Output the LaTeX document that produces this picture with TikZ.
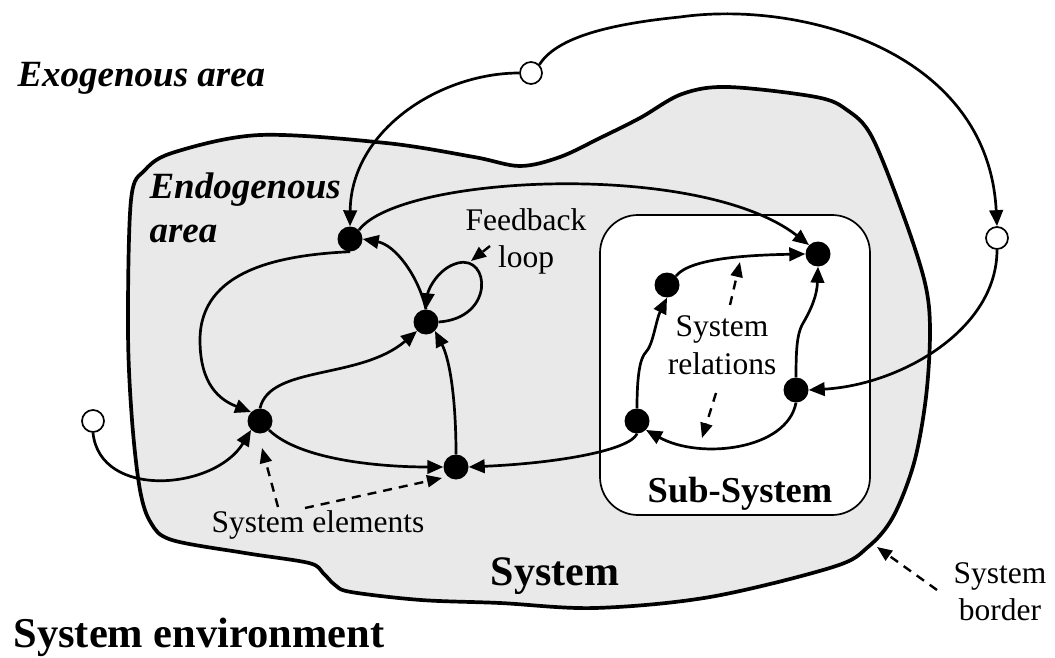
\documentclass[tikz,border=0pt]{standalone}
\usepackage{fontspec}
\setmainfont{Liberation Serif}
\usetikzlibrary{arrows.meta}
\begin{document}
\begin{tikzpicture}[x=1pt,y=-1pt,
  blk/.style={circle,fill=black,minimum size=25pt,inner sep=0pt},
  opn/.style={circle,draw=black,fill=white,line width=1.7pt,minimum size=22pt,inner sep=0pt},
  conn/.style={line width=2.7pt,-{Triangle[length=16pt,width=13.5pt]}},
  hint/.style={line width=2.4pt,dash pattern=on 9pt off 7pt,-{Triangle[length=15pt,width=12pt]}},
  reg/.style={font=\fontsize{31.5}{36}\selectfont},
  bigb/.style={font=\fontsize{42}{48}\selectfont\bfseries},
  area/.style={font=\fontsize{37}{42}\selectfont\bfseries\itshape}]
\useasboundingbox (0,0) rectangle (1055,658);
% system blob
\draw[line width=3.7pt,fill=gray!17] plot[smooth cycle,tension=0.55] coordinates {
 (128,330) (131,200) (145,170) (175,152) (260,135) (386,143) (474,157) (520,166)
 (560,157) (600,138) (640,118) (682,94) (728,87) (816,97) (847,110) (872,137)
 (904,217) (925,283) (930,330) (926,397) (914,463) (893,517) (868,547) (833,567)
 (710,597) (595,608) (500,603) (421,600) (351,592) (335,585) (323,573) (309,563)
 (245,553) (172,540) (151,523) (140,490) (132,420)};
% subsystem
\node[draw,line width=1.7pt,fill=white,rounded corners=38pt,minimum width=270pt,minimum height=300pt,inner sep=0pt] (sub) at (735,365) {};
% texts
\node[area,anchor=base west] (exo) at (14,87) {Exogenous area};
\node[area,anchor=base west] (endo1) at (146,198) {Endogenous};
\node[area,anchor=base west] (endo2) at (146,242) {area};
\node[reg,anchor=base] (fb1) at (526,230) {Feedback};
\node[reg,anchor=base] (fb2) at (526,267) {loop};
\node[reg,anchor=base] (rel1) at (722,336) {System};
\node[reg,anchor=base] (rel2) at (722,374) {relations};
\node[reg,anchor=base] (elem) at (318,532) {System elements};
\node[font=\fontsize{36.5}{42}\selectfont\bfseries,anchor=base] (subl) at (740,502) {Sub-System};
\node[bigb,anchor=base] (sys) at (555,585) {System};
\node[font=\fontsize{42.5}{48}\selectfont\bfseries,anchor=base west] (env) at (10,647) {System environment};
\node[reg,anchor=base] (bor1) at (1000,583) {System};
\node[reg,anchor=base] (bor2) at (1000,620) {border};
% nodes
\node[opn] (O1) at (531,73) {};
\node[opn] (O2) at (997,238) {};
\node[opn] (O3) at (93,421) {};
\node[blk] (A) at (350,239) {};
\node[blk] (B) at (426,322) {};
\node[blk] (C) at (260,421) {};
\node[blk] (D) at (456,467) {};
\node[blk] (E) at (818,254) {};
\node[blk] (F) at (667,285) {};
\node[blk] (G) at (637,421) {};
\node[blk] (H) at (796,390) {};
% connectors
\draw[conn] (O1.west) .. controls (440,73) and (351,130) .. (A.north);
\draw[conn] (O1.north east) .. controls (555,40) and (600,25) .. (680,17) .. controls (800,0) and (988,50) .. (O2.north);
\draw[conn] (O2.south) .. controls (997,330) and (900,385) .. (H.east);
\draw[conn] (O3.south) .. controls (100,500) and (215,490) .. (C.south west);
\draw[conn] (A.north east) .. controls (400,175) and (700,160) .. (E.north west);
\draw[conn] (A.south) .. controls (280,255) and (200,270) .. (200,340) .. controls (200,385) and (220,400) .. (C.north west);
\draw[conn] (B.north) .. controls (418,275) and (395,245) .. (A.east);
\draw[conn] (B.east) .. controls (495,318) and (490,255) .. (458,263) .. controls (438,268) and (428,290) .. (B.north);
\draw[conn] (C.north) .. controls (270,365) and (360,380) .. (B.south west);
\draw[conn] (C.south east) .. controls (300,460) and (380,467) .. (D.west);
\draw[conn] (D.north) .. controls (456,400) and (450,360) .. (B.south east);
\draw[conn] (G.south) .. controls (630,450) and (560,463) .. (D.east);
\draw[conn] (F.north east) .. controls (690,258) and (750,255) .. (E.west);
\draw[conn] (G.north) .. controls (637,375) and (640,358) .. (646,352) .. controls (653,345) and (656,320) .. (F.south);
\draw[conn] (H.north) .. controls (796,350) and (797,335) .. (802,325) .. controls (812,308) and (817,295) .. (E.south);
\draw[conn] (H.south) .. controls (787,450) and (700,460) .. (G.south east);
% dashed pointers
\coordinate (fbs) at (490,246); \coordinate (fbt) at (471,261);
\coordinate (r1s) at (730,305); \coordinate (r1t) at (740,262);
\coordinate (r2s) at (716,393); \coordinate (r2t) at (702,438);
\coordinate (e1s) at (278,507); \coordinate (e1t) at (262,448);
\coordinate (e2s) at (305,508); \coordinate (e2t) at (442,478);
\coordinate (bs) at (937,590); \coordinate (bt) at (877,547);
\draw[hint] (fbs) -- (fbt);
\draw[hint] (r1s) -- (r1t);
\draw[hint] (r2s) -- (r2t);
\draw[hint] (e1s) -- (e1t);
\draw[hint] (e2s) -- (e2t);
\draw[hint] (bs) -- (bt);
\end{tikzpicture}
\end{document}
